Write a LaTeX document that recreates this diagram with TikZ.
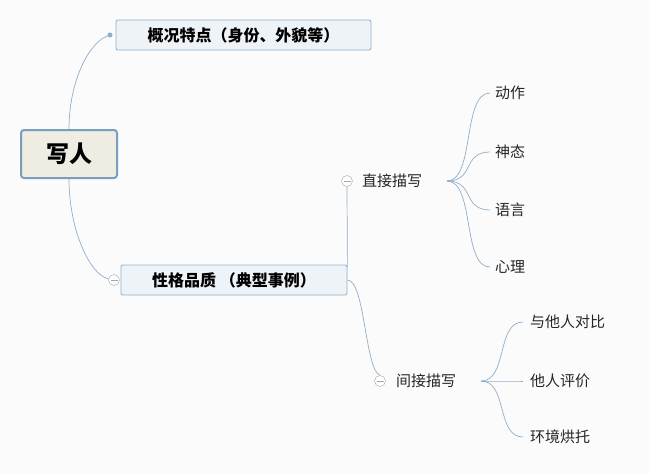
\documentclass[tikz,border=0pt]{standalone}
\usepackage{fontspec}
\setmainfont{Noto Sans CJK SC}
\usetikzlibrary{positioning}
\definecolor{bg}{HTML}{FBFBFB}
\definecolor{link}{HTML}{8EAFCB}
\definecolor{rootfill}{HTML}{EFEDE2}
\definecolor{rootline}{HTML}{7A9EBD}
\definecolor{boxfill}{HTML}{EEF3F8}
\tikzset{
  rootbox/.style={draw=rootline, line width=2pt, fill=rootfill, rounded corners=3pt,
    minimum width=96pt, minimum height=48pt, font=\bfseries\fontsize{23}{23}\selectfont},
  topicbox/.style={draw=link, line width=0.8pt, fill=boxfill, rounded corners=2pt, minimum height=30pt,
    font=\bfseries\fontsize{16}{16}\selectfont},
  leaf/.style={anchor=west, inner sep=0pt, font=\fontsize{15}{15}\selectfont, text=black!85},
  fold/.style={circle, draw=gray!70, fill=white, minimum size=11pt, inner sep=0pt},
  conn/.style={draw=link, line width=0.7pt}
}
\begin{document}
\begin{tikzpicture}[x=1pt,y=-1pt]
		\fill[bg] (0,0) rectangle (649,474);
		\useasboundingbox (0,0) rectangle (649,474);
		% main topics:
		\node[rootbox] (root) at (69,154){写人};
		\node[topicbox, minimum width=255pt] (look) at (243.5,35){概况特点（身份、外貌等）};
		\node[topicbox, minimum width=226pt] (trait) at (234,280){性格品质 （典型事例）};
		\fill[link] (110,35) circle (2.5pt);
		\coordinate (lookin) at (110,35);
		\node[fold] (f0) at (114,280){};
		\draw[gray!70] (110.5,280) -- (117.5,280);
		\draw[conn] (root.north) .. controls (69,80) and (90,40) .. (lookin);
		\draw[conn] (root.south) .. controls (69,230) and (90,275) .. (f0);
		% sub topics:
		\node[fold] (f1) at (347,181){};
		\draw[gray!70] (343.5,181) -- (350.5,181);
		\node[leaf] (direct) at (362,181){直接描写};
		\node[fold] (f2) at (380,381){};
		\draw[gray!70] (376.5,381) -- (383.5,381);
		\node[leaf] (indirect) at (396,381){间接描写};
		\draw[conn] (trait.north east) ++(0,2) -- (f1.south);
		\draw[conn] (trait.east) .. controls (365,280) and (365,370) .. (f2.north);
		% leaves:
		\foreach \t/\y [count=\i] in {动作/93,神态/152,语言/210,心理/267}{
			\node[leaf] (d\i) at (495,\y){\t};
			\draw[conn] (447,181) .. controls (475,181) and (462,\y) .. (490,\y);
		}
		\foreach \t/\y [count=\i] in {与他人对比/322,他人评价/381,环境烘托/437}{
			\node[leaf] (n\i) at (530,\y){\t};
			\draw[conn] (481,381) .. controls (508,381) and (496,\y) .. (523,\y);
		}
	\end{tikzpicture}
\end{document}
